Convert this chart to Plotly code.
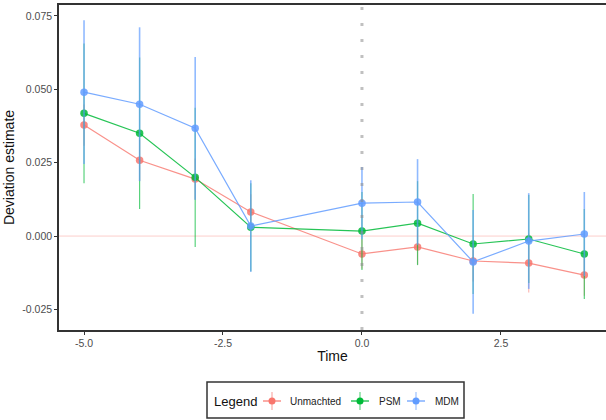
import plotly.graph_objects as go

time = [-5, -4, -3, -2, 0, 1, 2, 3, 4]

unm_est = [0.0378, 0.0258, 0.0194, 0.0082, -0.0061, -0.0037, -0.0085, -0.0092, -0.0133]
unm_err = [0.007, 0.007, 0.007, 0.006, 0.005, 0.006, 0.007, 0.0100, 0.007]

psm_est = [0.0418, 0.0350, 0.0200, 0.0030, 0.0017, 0.0044, -0.0027, -0.0010, -0.0061]
psm_err = [0.0238, 0.0258, 0.0237, 0.0150, 0.0133, 0.0143, 0.0170, 0.0150, 0.0153]

mdm_est = [0.0490, 0.0449, 0.0367, 0.0034, 0.0112, 0.0116, -0.0088, -0.0017, 0.0007]
mdm_err = [0.0245, 0.0262, 0.0243, 0.0156, 0.0123, 0.0146, 0.0177, 0.0163, 0.0143]

series_names = ["Unmachted", "PSM", "MDM"]
series_est = [unm_est, psm_est, mdm_est]
series_err = [unm_err, psm_err, mdm_err]
colors = ["#F8766D", "#00BA38", "#619CFF"]
line_colors = ["rgba(248,118,109,0.8)", "rgba(0,186,56,0.85)", "rgba(97,156,255,0.85)"]
err_colors = ["rgba(248,118,109,0.5)", "rgba(0,186,56,0.65)", "rgba(97,156,255,0.7)"]
err_widths = [1.2, 1.2, 1.6]

fig = go.Figure()
for name, est, err, col, lcol, ecol, ew in zip(series_names, series_est, series_err,
                                              colors, line_colors, err_colors, err_widths):
    fig.add_trace(go.Scatter(
        x=time, y=est, name=name, mode="lines+markers", showlegend=False,
        line=dict(color=lcol, width=1.2),
        marker=dict(color=col, size=7.5, opacity=0.85),
        error_y=dict(type="data", array=err, visible=True, width=0,
                     thickness=ew, color=ecol),
    ))

fig.add_shape(type="line", xref="paper", yref="y", x0=0, x1=1, y0=0, y1=0,
              line=dict(color="rgba(248,118,109,0.35)", width=1), layer="below")
fig.add_shape(type="line", xref="x", yref="paper", x0=0, x1=0, y0=0, y1=1,
              line=dict(color="rgba(140,140,140,0.55)", width=3, dash="3px,13px"),
              layer="above")

# Manual legend box (positions in paper coordinates; plot area 59..606 x 5..330 px)
W, H = 606, 420
L, R, T, B = 59, 0, 5, 90
pw, ph = W - L - R, H - T - B


def px(x):
    return (x - L) / pw


def py(y):
    return (H - B - y) / ph


fig.add_shape(type="rect", xref="paper", yref="paper",
              x0=px(207), x1=px(464), y0=py(418), y1=py(382),
              line=dict(color="#333", width=1.5), fillcolor="white")
fig.add_annotation(xref="paper", yref="paper", x=px(212), y=py(401), xanchor="left",
                   yanchor="middle", text="Legend", showarrow=False,
                   font=dict(size=13, color="#111"))
leg_sym_x = [272, 360, 416]
leg_text_x = [288, 377, 433]
for name, col, sx, tx in zip(series_names, colors, leg_sym_x, leg_text_x):
    fig.add_shape(type="line", xref="paper", yref="paper",
                  x0=px(sx - 9), x1=px(sx + 9), y0=py(401), y1=py(401),
                  line=dict(color=col, width=1.2))
    fig.add_shape(type="line", xref="paper", yref="paper",
                  x0=px(sx), x1=px(sx), y0=py(392), y1=py(410),
                  line=dict(color=col, width=1.2), opacity=0.6)
    fig.add_shape(type="circle", xref="paper", yref="paper",
                  x0=px(sx - 3.5), x1=px(sx + 3.5), y0=py(404.5), y1=py(397.5),
                  line=dict(color=col, width=0), fillcolor=col)
    fig.add_annotation(xref="paper", yref="paper", x=px(tx), y=py(401), xanchor="left",
                       yanchor="middle", text=name, showarrow=False,
                       font=dict(size=10, color="#222"))

fig.update_layout(
    width=W, height=H,
    margin=dict(l=L, r=R, t=T, b=B),
    plot_bgcolor="white", paper_bgcolor="white",
    font=dict(family="Liberation Sans, Arial, sans-serif", color="#222"),
    showlegend=False,
    xaxis=dict(range=[-5.45, 4.39], tickvals=[-5, -2.5, 0, 2.5],
               ticktext=["-5.0", "-2.5", "0.0", "2.5"], automargin=False,
               showgrid=False, zeroline=False, showline=True, mirror=True,
               linecolor="#333", linewidth=1.5, ticks="outside", ticklen=3,
               tickcolor="#333", tickfont=dict(size=10.5, color="#4d4d4d"),
               title=dict(text="Time", font=dict(size=14, color="#111"), standoff=3)),
    yaxis=dict(range=[-0.032, 0.0787], tickvals=[-0.025, 0, 0.025, 0.05, 0.075],
               ticktext=["-0.025", "0.000", "0.025", "0.050", "0.075"], automargin=False,
               showgrid=False, zeroline=False, showline=True, mirror=True,
               linecolor="#333", linewidth=1.5, ticks="outside", ticklen=3,
               tickcolor="#333", tickfont=dict(size=10.5, color="#4d4d4d"),
               title=dict(text="Deviation estimate", font=dict(size=14, color="#111"), standoff=4)),
)

fig.write_html("out.html", config={"displayModeBar": False},
               post_script="document.body.style.margin='0';")
